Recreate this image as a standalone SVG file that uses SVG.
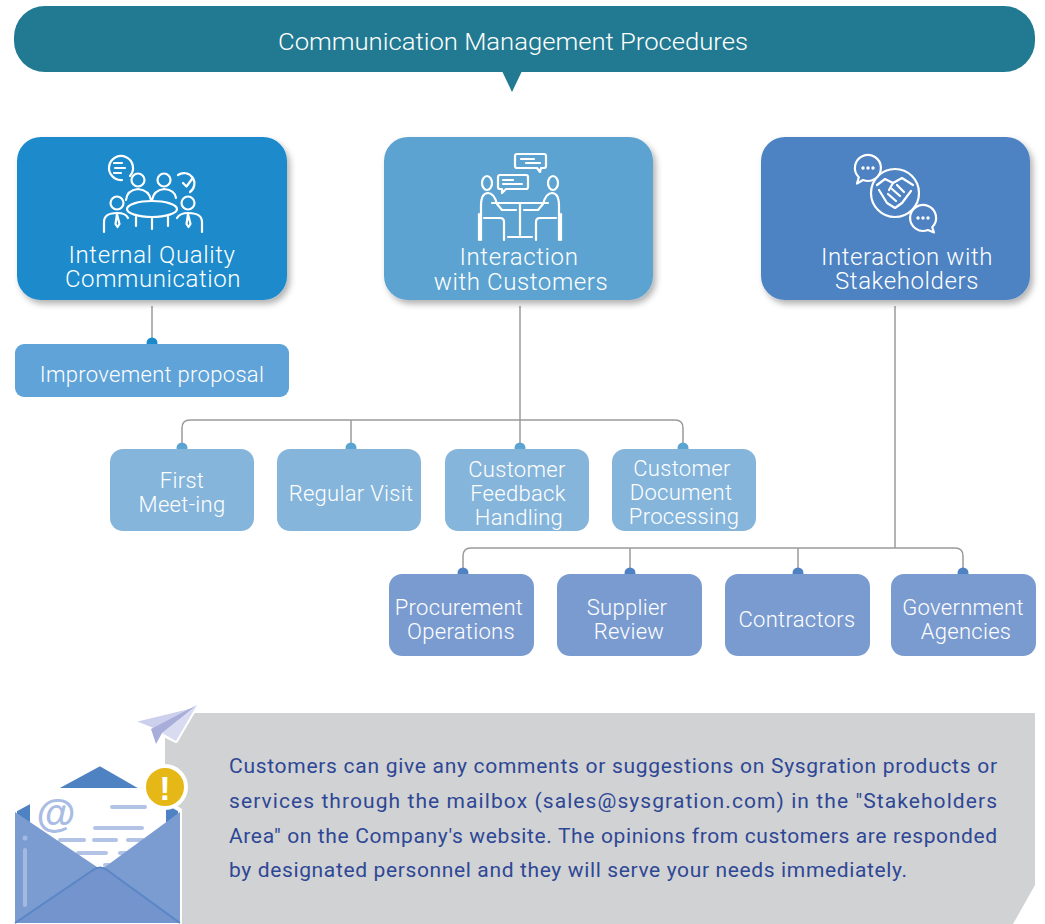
<svg xmlns="http://www.w3.org/2000/svg" width="1045" height="924" viewBox="0 0 1045 924">
  <defs>
    <filter id="shadow" x="-10%" y="-10%" width="125%" height="130%">
      <feDropShadow dx="3" dy="4" stdDeviation="3" flood-color="#000" flood-opacity="0.3"/>
    </filter>
  </defs>
  <style>
    text { font-family: "Roboto", "Liberation Sans", sans-serif; fill: #fff; text-anchor: middle; }
    .title { font-size: 23px; font-weight: 300; }
    .head { font-size: 24px; font-weight: 300; letter-spacing: 0.6px; }
    .box { font-size: 22px; font-weight: 300; letter-spacing: 0.3px; }
    .note { font-size: 21px; fill: #2E4795; text-anchor: start; font-weight: 400; }
    .icon { fill: none; stroke: #fff; stroke-width: 2.2; stroke-linecap: round; stroke-linejoin: round; }
    .wire { fill: none; stroke: #9B9B9B; stroke-width: 1.5; }
    .lvl1 { fill: #85B5DB; }
    .lvl2 { fill: #7A9BD0; }
  </style>

  <rect width="1045" height="924" fill="#fff"/>

  <!-- Title banner -->
  <g id="title">
    <rect x="14" y="6" width="1021" height="66" rx="31" fill="#217A91"/>
    <polygon points="502,71 522,71 512,92" fill="#217A91"/>
    <text class="title" x="513" y="50" textLength="470" lengthAdjust="spacingAndGlyphs">Communication Management Procedures</text>
  </g>

  <!-- Connectors -->
  <g id="connectors">
    <path class="wire" d="M152 306 V343"/>
    <path class="wire" d="M520 306 V447"/>
    <path class="wire" d="M182 447 V428 Q182 420 190 420 H675 Q683 420 683 428 V447"/>
    <path class="wire" d="M351 420 V447"/>
    <path class="wire" d="M895 306 V548"/>
    <path class="wire" d="M463 573 V556 Q463 548 471 548 H955 Q963 548 963 556 V573"/>
    <path class="wire" d="M630 548 V573"/>
    <path class="wire" d="M798 548 V573"/>
    <circle cx="152" cy="343" r="5.5" fill="#1A8ACB"/>
    <g fill="#5BA3D1">
      <circle cx="182" cy="448" r="5.5"/>
      <circle cx="351" cy="448" r="5.5"/>
      <circle cx="520" cy="448" r="5.5"/>
      <circle cx="683" cy="448" r="5.5"/>
    </g>
    <g fill="#4E82C3">
      <circle cx="463" cy="573" r="5.5"/>
      <circle cx="630" cy="573" r="5.5"/>
      <circle cx="798" cy="573" r="5.5"/>
      <circle cx="963" cy="573" r="5.5"/>
    </g>
  </g>

  <!-- Internal Quality Communication -->
  <g id="internal-quality">
    <rect x="17" y="137" width="270" height="163" rx="24" fill="#1A8ACB" filter="url(#shadow)"/>
    <g class="icon">
      <path d="M130 176 A12 12 0 1 0 122 180"/>
      <path d="M114 163 H122 M115 168 H125 M114 173 H121"/>
      <circle cx="138" cy="180" r="6.5"/>
      <path d="M126 200 Q127 190 138 189 Q149 190 151 200"/>
      <circle cx="164" cy="180" r="6.5"/>
      <path d="M152 200 Q154 190 164 189 Q175 190 176 198"/>
      <path d="M178 175 A10 10 0 1 1 190 192"/>
      <path d="M183 183 L186.5 186.5 L192 179"/>
      <ellipse cx="152" cy="209" rx="25" ry="8"/>
      <path d="M136 217 V226 M152 217 V229 M168 217 V226"/>
      <circle cx="117" cy="203" r="6.5"/>
      <path d="M104 232 V222 Q104 213 117 213 Q126 213 128 218"/>
      <path d="M117 214 L115.5 224 L117.5 227 L119.5 224 Z"/>
      <circle cx="188" cy="203" r="6.5"/>
      <path d="M202 232 V222 Q202 213 188 213 Q180 213 177 218"/>
      <path d="M188 214 L186.5 224 L188.5 227 L190.5 224 Z"/>
    </g>
    <text class="head"><tspan x="152" y="263">Internal Quality</tspan><tspan x="153" y="287">Communication</tspan></text>
  </g>

  <!-- Interaction with Customers -->
  <g id="customers">
    <rect x="384" y="137" width="269" height="163" rx="24" fill="#5BA3D1" filter="url(#shadow)"/>
    <g class="icon">
      <path d="M517 154 H544 Q546 154 546 156 V166 Q546 168 544 168 H541 L540 172 L537 168 H517 Q515 168 515 166 V156 Q515 154 517 154 Z"/>
      <path d="M521 159 H534 M526 163 H540"/>
      <path d="M500 175 H526 Q528 175 528 177 V187 Q528 189 526 189 H506 L502 193 L502 189 H500 Q498 189 498 187 V177 Q498 175 500 175 Z"/>
      <path d="M503 180 H513 M503 184 H522"/>
      <ellipse cx="487" cy="183" rx="5" ry="7"/>
      <path d="M481 240 V206 Q481 193 488 193 Q494 193 497 204 L502 210 H516"/>
      <path d="M484 218 H500 Q504 218 504 222 V240"/>
      <path d="M479 214 V240"/>
      <ellipse cx="553" cy="183" rx="5" ry="7"/>
      <path d="M559 240 V206 Q559 193 552 193 Q546 193 543 204 L538 210 H524"/>
      <path d="M556 218 H540 Q536 218 536 222 V240"/>
      <path d="M561 214 V240"/>
      <path d="M492 203 H548"/>
      <path d="M520 204 V235 M508 237 H532"/>
    </g>
    <text class="head"><tspan x="519" y="265">Interaction</tspan><tspan x="521" y="290">with Customers</tspan></text>
  </g>

  <!-- Interaction with Stakeholders -->
  <g id="stakeholders">
    <rect x="761" y="137" width="269" height="163" rx="24" fill="#4E82C3" filter="url(#shadow)"/>
    <g class="icon">
      <circle cx="895" cy="193" r="24"/>
      <!-- handshake -->
      <path d="M877 185 L885 179 L893 183 L902 178 L913 185"/>
      <path d="M879 190 L887 203 L895 208 L902 203 L911 191"/>
      <path d="M888 194 L896 201 M892 189 L900 196 M897 185 L904 192"/>
      <path d="M893 183 L889 190"/>
      <!-- chat bubbles -->
      <path d="M858.8 177.2 A13 13 0 1 1 863.1 180 L857 183.5 Z" fill="#4E82C3"/>
      <path d="M927.9 230 A13 13 0 1 1 932.2 227.2 L934 232.5 Z" fill="#4E82C3"/>
    </g>
    <g fill="#fff">
      <circle cx="863" cy="168" r="1.7"/><circle cx="868" cy="168" r="1.7"/><circle cx="873" cy="168" r="1.7"/>
      <circle cx="918" cy="218" r="1.7"/><circle cx="923" cy="218" r="1.7"/><circle cx="928" cy="218" r="1.7"/>
    </g>
    <text class="head"><tspan x="907" y="265">Interaction with</tspan><tspan x="907" y="289">Stakeholders</tspan></text>
  </g>

  <g id="improvement-proposal">
    <rect x="15" y="344" width="274" height="53" rx="9" fill="#5FA3D8"/>
    <text class="box" x="152" y="382">Improvement proposal</text>
  </g>

  <g id="first-meeting">
    <rect class="lvl1" x="110" y="449" width="144" height="82" rx="13"/>
    <text class="box"><tspan x="182" y="488">First</tspan><tspan x="182" y="512">Meet-ing</tspan></text>
  </g>
  <g id="regular-visit">
    <rect class="lvl1" x="277" y="449" width="144" height="82" rx="13"/>
    <text class="box" x="351" y="501">Regular Visit</text>
  </g>
  <g id="feedback-handling">
    <rect class="lvl1" x="445" y="449" width="144" height="82" rx="13"/>
    <text class="box"><tspan x="517" y="477">Customer</tspan><tspan x="518" y="501">Feedback</tspan><tspan x="519" y="525">Handling</tspan></text>
  </g>
  <g id="document-processing">
    <rect class="lvl1" x="612" y="449" width="144" height="82" rx="13"/>
    <text class="box"><tspan x="682" y="476">Customer</tspan><tspan x="681" y="500">Document</tspan><tspan x="684" y="524">Processing</tspan></text>
  </g>

  <g id="procurement">
    <rect class="lvl2" x="389" y="574" width="145" height="82" rx="13"/>
    <text class="box"><tspan x="459" y="615">Procurement</tspan><tspan x="461" y="639">Operations</tspan></text>
  </g>
  <g id="supplier-review">
    <rect class="lvl2" x="557" y="574" width="145" height="82" rx="13"/>
    <text class="box"><tspan x="627" y="615">Supplier</tspan><tspan x="629" y="639">Review</tspan></text>
  </g>
  <g id="contractors">
    <rect class="lvl2" x="725" y="574" width="145" height="82" rx="13"/>
    <text class="box" x="797" y="627">Contractors</text>
  </g>
  <g id="government">
    <rect class="lvl2" x="891" y="574" width="145" height="82" rx="13"/>
    <text class="box"><tspan x="963" y="615">Government</tspan><tspan x="966" y="639">Agencies</tspan></text>
  </g>

  <!-- Mailbox note panel -->
  <g id="mailbox-note">
    <polygon points="165,713 1035,713 1035,885 1013,924 165,924" fill="#D1D2D4"/>
    <text class="note" x="229" y="773" textLength="768" lengthAdjust="spacing">Customers can give any comments or suggestions on Sysgration products or</text>
    <text class="note" x="229" y="808" textLength="768" lengthAdjust="spacing">services through the mailbox (sales@sysgration.com) in the "Stakeholders</text>
    <text class="note" x="229" y="843" textLength="768" lengthAdjust="spacing">Area" on the Company's website. The opinions from customers are responded</text>
    <text class="note" x="229" y="877" textLength="678" lengthAdjust="spacing">by designated personnel and they will serve your needs immediately.</text>
  </g>

  <!-- Paper plane -->
  <g id="paper-plane">
    <polygon points="197,705 131,721 151,729 176,741" fill="#CDD0EC" stroke="#fff" stroke-width="4" stroke-linejoin="round"/>
    <polygon points="197,705 151,729 156,744 162,733" fill="#A8ADD9"/>
    <polygon points="197,705 162,733 176,741" fill="#D9DBF1"/>
  </g>

  <!-- Envelope -->
  <g id="envelope">
    <polygon points="15,810 100,764 180,810 180,923 15,923" fill="#4F82C3" stroke="#fff" stroke-width="4" stroke-linejoin="round"/>
    <rect x="30" y="788" width="136" height="95" fill="#fff"/>
    <text x="56" y="827" style="font-family:'Liberation Sans',sans-serif;font-size:40px;font-weight:bold;fill:#A9BCE3">@</text>
    <g stroke="#B3C3E6" stroke-width="4" stroke-linecap="round" fill="none">
      <path d="M112 807 H145"/>
      <path d="M95 828 H142"/>
      <path d="M60 840 H84 M94 840 H116 M128 840 H143"/>
      <path d="M78 853 H106 M120 853 H137"/>
      <path d="M105 865 H120"/>
    </g>
    <polygon points="15,812 97,867 105,867 180,812 180,923 15,923" fill="#7B9CD1"/>
    <path d="M15 923 L93 870 Q100 865 107 870 L180 923" fill="#7394CD" stroke="#5A86C6" stroke-width="2"/>
    <path d="M25 850 V905" stroke="#A3B9E2" stroke-width="4" stroke-linecap="round"/>
    <circle cx="25" cy="838" r="2.5" fill="#A3B9E2"/>
    <circle cx="165" cy="787" r="21" fill="#E6B817" stroke="#fff" stroke-width="4"/>
    <text x="165" y="800" style="font-family:'Liberation Sans',sans-serif;font-size:34px;font-weight:bold;fill:#fff">!</text>
  </g>
</svg>
